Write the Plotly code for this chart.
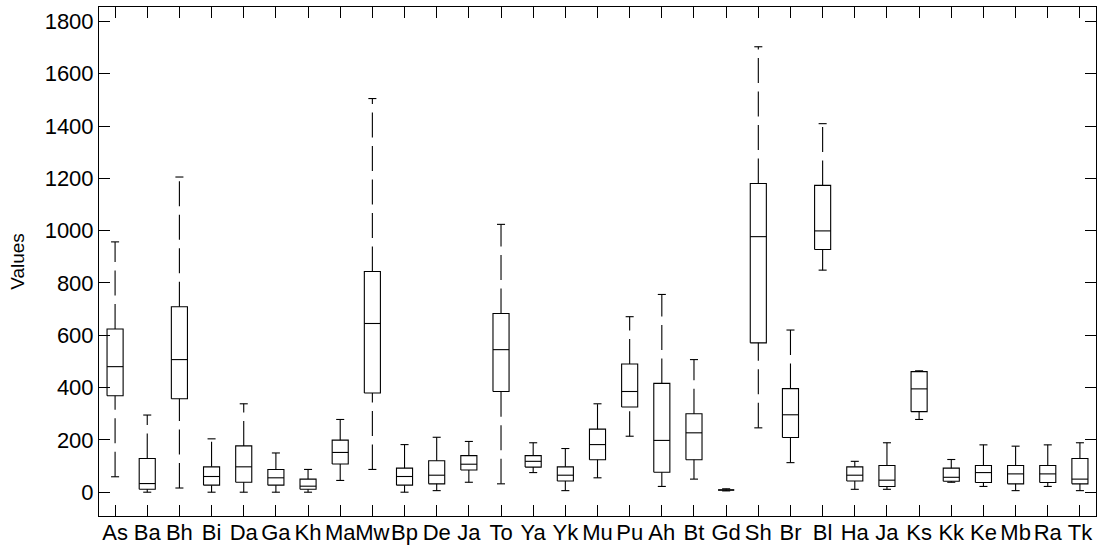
import plotly.graph_objects as go

labels = ["As", "Ba", "Bh", "Bi", "Da", "Ga", "Kh", "Ma", "Mw", "Bp", "De", "Ja", "To", "Ya", "Yk", "Mu",
          "Pu", "Ah", "Bt", "Gd", "Sh", "Br", "Bl", "Ha", "Ja", "Ks", "Kk", "Ke", "Mb", "Ra", "Tk"]
lower_whisker = [59, 0, 16, 0, 0, 0, 0, 45, 87, 0, 6, 38, 32, 75, 6, 55,
                 214, 22, 50, 5, 246, 113, 849, 11, 11, 278, 38, 22, 6, 22, 6]
q1 = [369, 11, 357, 27, 38, 27, 11, 108, 379, 27, 32, 85, 385, 96, 43, 124,
      326, 76, 124, 8, 571, 209, 928, 43, 22, 308, 42, 37, 32, 37, 32]
median = [480, 33, 507, 60, 97, 55, 23, 152, 645, 60, 65, 107, 545, 118, 65, 182,
          385, 198, 227, 9, 977, 296, 999, 65, 46, 395, 57, 75, 70, 70, 50]
q3 = [624, 129, 709, 97, 177, 87, 50, 199, 844, 92, 120, 140, 683, 140, 97, 241,
      490, 416, 300, 10, 1180, 396, 1173, 97, 102, 461, 92, 102, 102, 102, 129]
upper_whisker = [957, 295, 1205, 204, 338, 150, 87, 278, 1505, 182, 210, 194, 1024, 189, 167, 338,
                 671, 756, 507, 13, 1703, 620, 1409, 118, 189, 464, 125, 181, 176, 181, 189]
y_ticks = [0, 200, 400, 600, 800, 1000, 1200, 1400, 1600, 1800]

BOX_HALF = 0.25
CAP_HALF = 0.125
LINE = dict(color="black", width=1.1)
DASH = dict(color="black", width=1.1, dash="25px,8.5px")
FONT = "Liberation Sans, Arial, sans-serif"

fig = go.Figure()
positions = list(range(1, len(labels) + 1))

bx, by, mx, my, cx, cy = [], [], [], [], [], []
for p, a, m, b, lo, hi in zip(positions, q1, median, q3, lower_whisker, upper_whisker):
    bx += [p - BOX_HALF, p + BOX_HALF, p + BOX_HALF, p - BOX_HALF, p - BOX_HALF, None]
    by += [a, a, b, b, a, None]
    mx += [p - BOX_HALF, p + BOX_HALF, None]
    my += [m, m, None]
    cx += [p - CAP_HALF, p + CAP_HALF, None, p - CAP_HALF, p + CAP_HALF, None]
    cy += [lo, lo, None, hi, hi, None]

# whiskers: each drawn bottom -> top so the dash pattern starts at the lower end
for p, a, b, lo, hi in zip(positions, q1, q3, lower_whisker, upper_whisker):
    fig.add_trace(go.Scatter(x=[p, p], y=[lo, a], mode="lines", line=DASH,
                             showlegend=False, hoverinfo="skip"))
    fig.add_trace(go.Scatter(x=[p, p], y=[b, hi], mode="lines", line=DASH,
                             showlegend=False, hoverinfo="skip"))

fig.add_trace(go.Scatter(x=cx, y=cy, mode="lines", line=LINE, showlegend=False, hoverinfo="skip"))
fig.add_trace(go.Scatter(x=bx, y=by, mode="lines", line=LINE, showlegend=False, hoverinfo="skip"))
fig.add_trace(go.Scatter(x=mx, y=my, mode="lines", line=LINE, showlegend=False, hoverinfo="skip"))

axis_common = dict(showline=True, linecolor="black", linewidth=1, mirror="ticks",
                   ticks="inside", ticklen=11, tickcolor="black", tickwidth=1,
                   showgrid=False, zeroline=False, automargin=False,
                   tickfont=dict(family=FONT, size=22, color="black"))

fig.update_layout(
    width=1098, height=547,
    margin=dict(l=99, r=2, t=7, b=31),
    paper_bgcolor="white", plot_bgcolor="white",
    hovermode=False,
    xaxis=dict(range=[0.5, len(labels) + 0.5], tickvals=positions, ticktext=labels,
               tickangle=0, ticklabelstandoff=-3, **axis_common),
    yaxis=dict(range=[-91, 1855], tickvals=y_ticks, ticktext=[str(v) for v in y_ticks],
               title=dict(text="Values", font=dict(family=FONT, size=19, color="black"), standoff=14),
               **axis_common),
)

fig.write_html("out.html", config={"displayModeBar": False},
               post_script="document.body.style.margin='0';document.body.style.overflow='hidden';")
